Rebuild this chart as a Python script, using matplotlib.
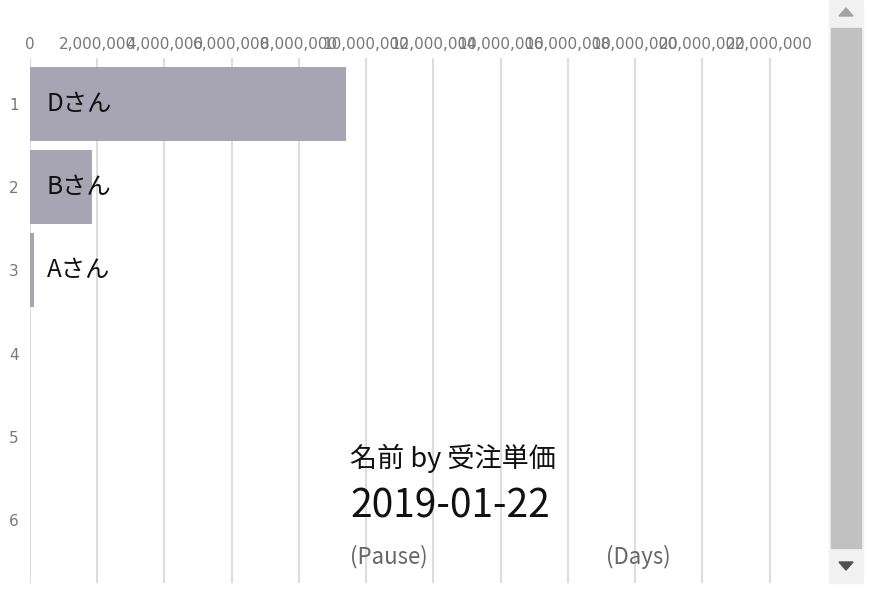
import matplotlib.pyplot as plt
from matplotlib.patches import Rectangle, Polygon
from matplotlib.ticker import FuncFormatter

plt.rcParams['font.family'] = ['Noto Sans CJK JP', 'DejaVu Sans']

# data
names = ["Dさん", "Bさん", "Aさん"]
values = [9400000, 1850000, 120000]
ranks = [1, 2, 3]
rank_ticks = [1, 2, 3, 4, 5, 6]
x_ticks = list(range(0, 22000001, 2000000))
title = "名前 by 受注単価"
date_label = "2019-01-22"

fig = plt.figure(figsize=(8.8, 6.0), dpi=100)
W, H = 880, 600
ax = fig.add_axes([30 / W, 1 - 583 / H, (820 - 30) / W, (583 - 58) / H])

ax.barh(ranks, values, height=0.89, color="#a7a5b4", zorder=2)
for r, n in zip(ranks, names):
    ax.text(500000, r, n, va="center", ha="left", fontsize=17.5, color="#111111", zorder=3)

ax.set_xlim(0, 23500000)
ax.set_ylim(6.757, 0.447)
ax.set_xticks(x_ticks)
ax.xaxis.set_major_formatter(FuncFormatter(lambda v, p: f"{int(v):,}"))
ax.xaxis.tick_top()
ax.set_yticks(rank_ticks)
ax.tick_params(axis="x", length=0, pad=4, labelsize=11, labelcolor="#777777")
ax.tick_params(axis="y", length=0, pad=8, labelsize=11, labelcolor="#777777")
for lab in ax.get_xticklabels() + ax.get_yticklabels():
    lab.set_family("DejaVu Sans")
ax.grid(axis="x", color="#dddddd", linewidth=1.5, zorder=0)
for s in ax.spines.values():
    s.set_visible(False)

# overlay texts
fig.text(350 / W, 1 - 458 / H, title, fontsize=19.5, va="center", ha="left", color="#111111")
fig.text(350 / W, 1 - 507 / H, date_label, fontsize=28, va="center", ha="left", color="#111111")
fig.text(350 / W, 1 - 557 / H, "(Pause)", fontsize=16, va="center", ha="left", color="#666666")
fig.text(606 / W, 1 - 557 / H, "(Days)", fontsize=16, va="center", ha="left", color="#666666")

# scrollbar
fig.patches.append(Rectangle((829 / W, 1 - 583 / H), 34 / W, 583 / H,
                             transform=fig.transFigure, color="#f1f1f1", zorder=5))
fig.patches.append(Rectangle((831 / W, 1 - 548 / H), 30 / W, 520 / H,
                             transform=fig.transFigure, color="#c1c1c1", zorder=6))
fig.patches.append(Polygon([(839 / W, 1 - 16 / H), (853 / W, 1 - 16 / H), (846 / W, 1 - 8 / H)],
                           transform=fig.transFigure, color="#a3a3a3", zorder=6))
fig.patches.append(Polygon([(839 / W, 1 - 562 / H), (853 / W, 1 - 562 / H), (846 / W, 1 - 570 / H)],
                           transform=fig.transFigure, color="#505050", zorder=6))

fig.savefig("out.png", dpi=100)
